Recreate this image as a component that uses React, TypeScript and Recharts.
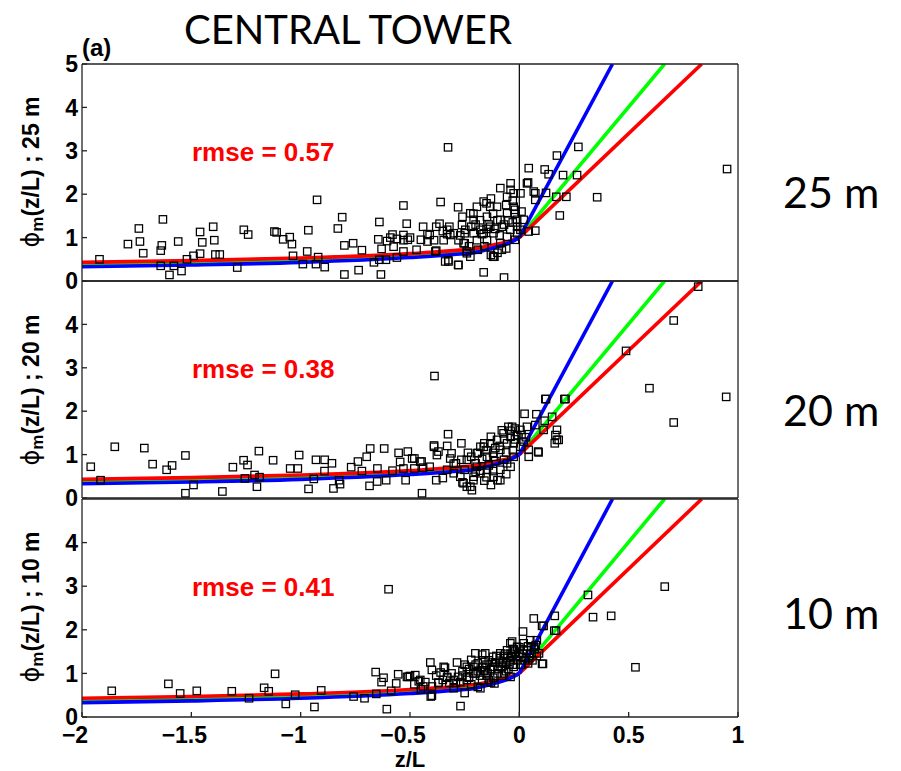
import React from "react";
import { ComposedChart, Line, ReferenceLine, Scatter, XAxis, YAxis } from "recharts";

// z/L axis and phi_m axis ticks
const zTicks = [-2, -1.5, -1, -0.5, 0, 0.5, 1];
const phiTicksTop = [0, 1, 2, 3, 4, 5];
const phiTicks = [0, 1, 2, 3, 4];
const frameTicks = [0, 1, 2, 3, 4, 5];

// fitted similarity curves, unstable side
const fitZ = [-2, -1.5, -1, -0.5, -0.3, -0.2, -0.1, -0.05, 0];
const redFit = [0.43, 0.47, 0.53, 0.63, 0.7, 0.75, 0.85, 0.91, 1];
const greenFit = [0.38, 0.42, 0.48, 0.58, 0.66, 0.71, 0.82, 0.89, 1];
const blueFit = [0.33, 0.37, 0.43, 0.54, 0.61, 0.66, 0.79, 0.87, 1];
// stable side: straight lines from (0, 1) to where each leaves the top of the panel (phi = 5)
const neutralPhi = 1;
const redExitZ = 0.834;
const greenExitZ = 0.664;
const blueExitZ = 0.426;
const exitPhi = 5;

// observations: [z/L, phi_m]
const obs25: [number, number][] = [
  [-1.92, 0.5], [-1.79, 0.85], [-1.74, 1.21], [-1.735, 0.91], [-1.72, 0.64], [-1.63, 1.42], [-1.64, 0.7],
  [-1.635, 0.82], [-1.64, 0.35], [-1.6, 0.14], [-1.58, 0.35], [-1.56, 0.91], [-1.545, 0.23], [-1.52, 0.5],
  [-1.49, 0.58], [-1.46, 1.13], [-1.45, 0.89], [-1.46, 0.63], [-1.4, 1.25], [-1.395, 0.94], [-1.39, 0.61],
  [-1.37, 0.61], [-1.29, 0.31], [-1.26, 1.18], [-1.24, 1.07], [-1.12, 1.14], [-1.11, 1.12], [-1.08, 0.96],
  [-1.05, 1.01], [-1.04, 0.85], [-1.035, 0.58], [-0.99, 0.39], [-0.97, 0.68], [-0.965, 1.17], [-0.92, 0.55],
  [-0.925, 1.87], [-0.93, 0.39], [-0.89, 0.32], [-0.83, 1.21], [-0.81, 1.47], [-0.8, 0.82], [-0.8, 0.15],
  [-0.76, 0.87], [-0.735, 0.25], [-0.72, 0.71], [-0.665, 0.43], [-0.64, 1.36], [-0.645, 0.96], [-0.64, 0.49],
  [-0.633, 0.15], [-0.63, 0.74], [-0.605, 0.92], [-0.59, 1.0], [-0.58, 1.07], [-0.61, 0.49], [-0.575, 0.79],
  [-0.56, 0.97], [-0.53, 1.74], [-0.515, 1.32], [-0.51, 0.95], [-0.53, 0.68], [-0.56, 0.54], [-0.53, 0.94],
  [-0.53, 1.06], [-0.44, 1.25], [-0.42, 0.91], [-0.41, 1.06], [-0.38, 0.7], [-0.36, 1.82], [-0.365, 1.32],
  [-0.326, 3.08], [-0.33, 1.08], [-0.325, 0.48], [-0.32, 1.25], [-0.28, 1.7], [-0.28, 0.37], [-0.26, 1.48],
  [-0.25, 0.87], [-0.24, 0.68], [-0.22, 1.25], [-0.21, 1.55], [-0.163, 0.2], [-0.17, 1.08], [-0.15, 1.79],
  [-0.13, 1.9], [-0.12, 0.56], [-0.1, 1.4], [-0.07, 0.08], [-0.04, 2.25], [-0.04, 2.1], [-0.02, 1.64],
  [-0.38, 1.25], [-0.42, 1.08], [-0.39, 0.94], [-0.316, 1.06], [-0.33, 1.18], [-0.262, 1.29], [-0.224, 1.56],
  [-0.209, 1.41], [-0.163, 1.83], [-0.087, 2.14], [-0.056, 1.94], [-0.102, 1.71], [-0.148, 1.48], [-0.178, 1.18],
  [-0.133, 1.25], [-0.087, 1.41], [-0.056, 1.56], [-0.026, 1.71], [0.005, 2.02], [0.035, 2.25], [0.043, 2.6],
  [0.073, 2.02], [0.073, 1.87], [0.116, 2.57], [0.134, 2.46], [0.122, 2.03], [0.172, 2.89], [0.2, 2.44],
  [0.169, 1.94], [0.215, 1.94], [0.185, 1.51], [0.073, 1.16], [0.043, 1.14], [0.02, 1.41], [0.005, 1.18],
  [-0.01, 1.1], [-0.056, 1.02], [-0.087, 0.87], [-0.118, 0.56], [-0.224, 0.56], [-0.24, 0.64], [-0.278, 0.37],
  [-0.324, 0.45], [-0.339, 0.45], [-0.384, 0.68], [-0.255, 0.87], [-0.194, 0.94], [-0.148, 0.94], [-0.194, 1.71],
  [-0.133, 1.71], [-0.026, 2.02], [-0.01, 1.41], [-0.041, 1.18], [-0.118, 1.1], [-0.163, 1.1], [-0.209, 1.1],
  [-0.247, 1.18], [-0.278, 0.94], [-0.346, 0.94], [-0.3, 1.1], [0.27, 3.09], [0.264, 2.44], [0.95, 2.58],
  [0.356, 1.93], [0.04, 2.27], [0.066, 2.06], [-0.114, 0.56], [-0.19, 0.72], [-0.16, 0.8], [-0.14, 1.3],
  [-0.11, 1.2], [-0.09, 1.05], [-0.07, 1.3], [-0.06, 0.75], [-0.03, 1.35], [-0.02, 0.95], [-0.01, 1.25],
  [-0.27, 1.05], [-0.23, 0.8], [-0.2, 1.3], [-0.35, 1.15], [-0.45, 0.95], [-0.5, 1.0], [-0.47, 0.72],
  [-0.13, 0.6], [-0.1, 0.65], [-0.08, 0.72], [-0.12, 1.55], [-0.06, 1.75], [-0.03, 1.85], [-0.18, 1.4],
  [-0.25, 1.1], [-0.15, 1.2], [-0.08, 1.25], [-0.05, 1.4], [-0.02, 1.55], [0.01, 1.6],
];

const obs20: [number, number][] = [
  [-1.96, 0.72], [-1.915, 0.41], [-1.85, 1.18], [-1.715, 1.15], [-1.677, 0.78], [-1.613, 0.65], [-1.588, 0.75],
  [-1.527, 0.98], [-1.527, 0.11], [-1.49, 0.3], [-1.358, 0.15], [-1.31, 0.71], [-1.261, 0.87], [-1.243, 0.76],
  [-1.255, 0.45], [-1.211, 0.53], [-1.188, 0.48], [-1.2, 0.26], [-1.191, 1.08], [-1.126, 0.87], [-1.048, 0.68],
  [-1.013, 0.68], [-1.007, 0.99], [-0.964, 0.21], [-0.94, 0.44], [-0.93, 0.88], [-0.891, 0.62], [-0.89, 0.88],
  [-0.857, 0.8], [-0.85, 0.22], [-0.824, 0.41], [-0.82, 0.32], [-0.769, 0.71], [-0.738, 0.84], [-0.72, 0.62],
  [-0.698, 0.95], [-0.682, 1.14], [-0.685, 0.28], [-0.649, 0.68], [-0.65, 0.38], [-0.618, 1.14], [-0.609, 0.41],
  [-0.58, 0.63], [-0.552, 1.04], [-0.545, 0.83], [-0.53, 0.68], [-0.52, 0.41], [-0.49, 0.91], [-0.48, 0.68],
  [-0.447, 0.84], [-0.445, 0.11], [-0.44, 0.7], [-0.41, 0.72], [-0.39, 1.21], [-0.38, 0.41], [-0.388, 2.81],
  [-0.37, 1.07], [-0.35, 0.46], [-0.33, 1.2], [-0.326, 1.47], [-0.31, 1.03], [-0.3, 0.79], [-0.265, 1.26],
  [-0.265, 0.88], [-0.235, 1.04], [-0.26, 0.36], [-0.24, 0.26], [-0.217, 0.18], [-0.21, 0.41], [-0.18, 0.63],
  [-0.19, 1.04], [-0.16, 1.26], [-0.15, 0.48], [-0.13, 1.41], [-0.12, 1.04], [-0.1, 0.41], [-0.08, 1.56],
  [-0.07, 0.88], [-0.05, 1.64], [-0.04, 1.41], [-0.04, 0.72], [-0.39, 1.18], [-0.377, 0.99], [-0.316, 0.91],
  [-0.29, 0.8], [-0.24, 0.88], [-0.194, 1.03], [-0.163, 1.18], [-0.133, 1.26], [-0.102, 1.34], [-0.072, 1.49],
  [-0.033, 1.64], [-0.01, 1.45], [0.005, 1.57], [0.035, 1.64], [0.024, 1.94], [0.078, 1.93], [0.119, 2.28],
  [0.206, 2.28], [0.116, 1.78], [0.15, 1.87], [0.172, 1.57], [0.165, 1.45], [0.18, 1.34], [0.162, 1.26],
  [0.086, 1.07], [0.043, 1.11], [0.043, 0.95], [0.073, 1.68], [0.111, 1.57], [-0.026, 0.95], [-0.056, 0.8],
  [-0.087, 0.65], [-0.087, 0.41], [-0.118, 0.49], [-0.148, 0.65], [-0.178, 0.57], [-0.209, 0.49], [-0.224, 0.26],
  [-0.255, 0.34], [-0.27, 0.49], [-0.3, 0.57], [-0.33, 0.65], [-0.178, 1.18], [-0.148, 0.95], [-0.118, 0.95],
  [-0.087, 1.11], [-0.056, 1.26], [-0.026, 1.26], [0.005, 1.18], [-0.194, 0.72], [-0.453, 0.84], [-0.48, 0.91],
  [-0.51, 1.07], [0.818, 4.87], [0.706, 4.09], [0.488, 3.39], [0.595, 2.53], [0.946, 2.33], [0.706, 1.74],
  [0.211, 2.28], [0.122, 2.28], [0.088, 1.05], [0.172, 1.34], [-0.2, 0.8], [-0.17, 0.9], [-0.14, 0.75],
  [-0.11, 0.85], [-0.09, 1.2], [-0.06, 1.05], [-0.03, 1.1], [-0.25, 0.65], [-0.22, 0.95], [-0.12, 0.62],
  [-0.06, 0.55], [-0.02, 1.35], [0.02, 1.3], [-0.15, 1.1], [-0.11, 1.15], [-0.07, 1.35], [-0.04, 1.55],
  [-0.02, 1.6], [0.01, 1.45], [0.03, 1.4], [-0.2, 0.6], [-0.16, 0.4], [-0.13, 0.3],
];

const obs10: [number, number][] = [
  [-1.864, 0.6], [-1.605, 0.76], [-1.551, 0.54], [-1.475, 0.6], [-1.315, 0.59], [-1.236, 0.43], [-1.167, 0.67],
  [-1.146, 0.59], [-1.117, 0.99], [-1.068, 0.3], [-1.025, 0.51], [-0.937, 0.23], [-0.906, 0.61], [-0.758, 0.47],
  [-0.708, 0.43], [-0.654, 0.53], [-0.657, 1.03], [-0.621, 0.9], [-0.63, 0.8], [-0.598, 2.93], [-0.606, 0.18],
  [-0.586, 0.6], [-0.563, 0.77], [-0.554, 0.98], [-0.507, 0.92], [-0.476, 0.96], [-0.46, 0.82], [-0.45, 0.63],
  [-0.407, 1.25], [-0.4, 1.08], [-0.4, 0.49], [-0.37, 0.79], [-0.36, 1.02], [-0.34, 1.13], [-0.33, 0.9],
  [-0.285, 1.25], [-0.29, 0.78], [-0.269, 0.25], [-0.25, 0.55], [-0.24, 0.92], [-0.22, 1.31], [-0.19, 0.69],
  [-0.17, 1.43], [-0.16, 1.06], [-0.13, 0.79], [-0.041, 1.69], [-0.03, 1.55], [-0.405, 0.47], [-0.178, 0.66],
  [-0.114, 0.77], [-0.201, 1.46], [-0.156, 1.46], [-0.033, 1.73], [0.066, 2.26], [0.162, 2.32], [0.111, 2.09],
  [0.16, 1.98], [0.017, 1.96], [0.108, 1.22], [-0.514, 0.92], [-0.5, 0.94], [-0.453, 0.85], [-0.44, 0.7],
  [-0.346, 1.15], [-0.33, 0.92], [-0.32, 0.78], [-0.3, 0.66], [-0.24, 0.85], [-0.24, 1.15], [-0.21, 1.0],
  [-0.19, 1.23], [-0.16, 1.07], [-0.14, 1.3], [-0.12, 1.15], [-0.12, 1.38], [-0.087, 1.46], [-0.087, 1.23],
  [-0.07, 1.0], [-0.056, 1.53], [-0.04, 1.3], [-0.026, 1.15], [-0.01, 1.61], [0.005, 1.38], [0.02, 1.69],
  [0.035, 1.53], [0.05, 1.76], [0.066, 1.61], [0.08, 1.76], [0.09, 1.46], [0.04, 1.23], [-0.04, 0.92],
  [-0.14, 0.85], [-0.28, 0.92], [-0.37, 0.78], [-0.4, 0.7], [0.665, 2.99], [0.531, 1.14], [0.42, 2.32],
  [0.337, 2.29], [0.314, 2.8], [0.168, 1.98], [0.104, 2.09], [0.104, 1.22], [-0.23, 1.1], [-0.2, 1.2],
  [-0.18, 0.95], [-0.15, 1.2], [-0.13, 1.1], [-0.11, 1.25], [-0.1, 1.0], [-0.09, 1.35], [-0.08, 1.15],
  [-0.07, 1.4], [-0.06, 1.25], [-0.05, 1.1], [-0.04, 1.45], [-0.03, 1.2], [-0.02, 1.5], [-0.01, 1.3],
  [0.0, 1.45], [0.01, 1.2], [0.02, 1.55], [0.03, 1.35], [0.04, 1.62], [0.05, 1.45], [0.06, 1.3],
  [0.07, 1.55], [0.08, 1.4], [-0.26, 1.05], [-0.27, 0.8], [-0.22, 0.75], [-0.17, 0.85], [-0.12, 0.9],
  [-0.08, 0.95], [-0.35, 0.85], [-0.31, 1.0], [-0.43, 0.8], [-0.48, 0.75], [-0.25, 1.2], [-0.21, 1.15],
  [-0.19, 1.05], [-0.165, 1.3], [-0.145, 1.0], [-0.125, 1.25], [-0.105, 1.4], [-0.095, 1.1], [-0.075, 1.25],
  [-0.065, 1.45], [-0.055, 1.35], [-0.045, 1.2], [-0.035, 1.4], [-0.025, 1.55], [-0.015, 1.4], [0.0, 1.6],
  [0.015, 1.45], [0.025, 1.3], [0.045, 1.35], [0.055, 1.6], [0.075, 1.65], [-0.3, 0.85], [-0.26, 0.95],
  [-0.23, 0.9], [-0.2, 1.0], [-0.17, 1.15], [-0.15, 0.95], [-0.1, 1.15], [-0.06, 1.05], [-0.38, 0.95],
];

const rmse25 = "0.57";
const rmse20 = "0.38";
const rmse10 = "0.41";

const FONT = "'Liberation Sans', Arial, Helvetica, sans-serif";
const FRAME = { stroke: "#222", strokeWidth: 1.3 };

const unstable = (vals: number[]) => fitZ.map((z, i) => ({ x: z, y: vals[i] }));
const stable = (exitZ: number) => [
  { x: 0, y: neutralPhi },
  { x: exitZ, y: exitPhi },
];

// green first so red and blue cover it on the unstable side, as in the figure
const fits = [
  { key: "green", color: "#00ff00", unstable: unstable(greenFit), stable: stable(greenExitZ) },
  { key: "red", color: "#ff0000", unstable: unstable(redFit), stable: stable(redExitZ) },
  { key: "blue", color: "#0000ff", unstable: unstable(blueFit), stable: stable(blueExitZ) },
];

function Square(props: any) {
  const { cx, cy } = props;
  if (cx == null || cy == null) return null;
  return <rect x={cx - 3.7} y={cy - 3.7} width={7.4} height={7.4} fill="none" stroke="#000" strokeWidth={1.25} />;
}

function ZTick(props: any) {
  const { x, y, payload } = props;
  const v = payload.value as number;
  const label = v < 0 ? `\u2212${Math.abs(v)}` : String(v);
  return (
    <text x={v < 0 ? x - 7 : x} y={y} dy="0.71em" textAnchor="middle" fontFamily={FONT} fontWeight={700} fontSize={23} fill="#000">
      {label}
    </text>
  );
}

function Panel({
  obs,
  plotTop,
  plotBottom,
  yTicks,
  showZ,
}: {
  obs: [number, number][];
  plotTop: number;
  plotBottom: number;
  yTicks: number[];
  showZ: boolean;
}) {
  const topPad = 40;
  const bottomAxisH = showZ ? 50 : 1;
  const bottomPad = 16;
  const height = topPad + (plotBottom - plotTop) + bottomAxisH + bottomPad;
  const points = obs.map(([x, y]) => ({ x, y }));
  const common = { xAxisId: "b", yAxisId: "l", dataKey: "y", dot: false, activeDot: false, isAnimationActive: false, strokeWidth: 3.6 };
  return (
    <div style={{ position: "absolute", left: 0, top: plotTop - topPad }}>
      <ComposedChart width={901} height={height} margin={{ top: topPad - 1, right: 162, bottom: bottomPad, left: 52 }}>
        <XAxis
          xAxisId="b"
          type="number"
          dataKey="x"
          domain={[-2, 1]}
          ticks={zTicks}
          interval={0}
          allowDataOverflow
          height={bottomAxisH}
          tickSize={-5}
          tickMargin={15}
          tick={showZ ? (p: any) => <ZTick {...p} /> : false}
          axisLine={FRAME}
          tickLine={FRAME}
        />
        <XAxis
          xAxisId="t"
          orientation="top"
          type="number"
          dataKey="x"
          domain={[-2, 1]}
          ticks={zTicks}
          interval={0}
          allowDataOverflow
          height={1}
          tickSize={-5}
          tick={false}
          axisLine={FRAME}
          tickLine={FRAME}
        />
        <YAxis
          yAxisId="l"
          type="number"
          dataKey="y"
          domain={[0, 5]}
          ticks={yTicks}
          interval={0}
          allowDataOverflow
          width={30}
          tickSize={-5}
          tickMargin={9}
          tick={{ fill: "#000", fontSize: 23, fontWeight: 700, fontFamily: FONT }}
          axisLine={FRAME}
          tickLine={FRAME}
        />
        <YAxis
          yAxisId="r"
          orientation="right"
          type="number"
          dataKey="y"
          domain={[0, 5]}
          ticks={frameTicks}
          interval={0}
          allowDataOverflow
          width={1}
          tickSize={-5}
          tick={false}
          axisLine={FRAME}
          tickLine={FRAME}
        />
        <ReferenceLine x={0} xAxisId="b" yAxisId="l" stroke="#000" strokeWidth={1.2} />
        {fits.map((f) => (
          <Line key={`${f.key}-u`} data={f.unstable} type="monotone" stroke={f.color} {...(common as any)} />
        ))}
        {fits.map((f) => (
          <Line key={`${f.key}-s`} data={f.stable} type="linear" stroke={f.color} {...(common as any)} />
        ))}
        <Scatter data={points} xAxisId="b" yAxisId="l" shape={(p: any) => <Square {...p} />} isAnimationActive={false} />
      </ComposedChart>
    </div>
  );
}

function YTitle({ cy, height }: { cy: number; height: string }) {
  return (
    <text transform={`translate(31,${cy}) rotate(-90)`} textAnchor="middle" dominantBaseline="central" fontFamily={FONT} fontSize={23} fontWeight={700} fill="#000">
      <tspan fontFamily="'DejaVu Sans', sans-serif" fontWeight={400} fontSize={24}>
        {"\u03D5"}
      </tspan>
      <tspan dy={6} fontSize={17}>m</tspan>
      <tspan dy={-6}>{`(z/L) ; ${height}`}</tspan>
    </text>
  );
}

export default function App() {
  return (
    <div style={{ position: "absolute", left: 0, top: 0, width: 901, height: 771, background: "#fff", overflow: "hidden" }}>
      <Panel obs={obs25} plotTop={64} plotBottom={281} yTicks={phiTicksTop} showZ={false} />
      <Panel obs={obs20} plotTop={281} plotBottom={498} yTicks={phiTicks} showZ={false} />
      <Panel obs={obs10} plotTop={499} plotBottom={717} yTicks={phiTicks} showZ={true} />
      <svg width={901} height={771} style={{ position: "absolute", left: 0, top: 0, pointerEvents: "none" }}>
        <text x={348} y={44} textAnchor="middle" fontFamily="Lato, sans-serif" fontSize={40} fill="#000">
          CENTRAL TOWER
        </text>
        <text x={82} y={56} fontFamily={FONT} fontWeight={700} fontSize={24} fill="#000">
          (a)
        </text>
        <text x={192} y={161} fontFamily={FONT} fontWeight={700} fontSize={26} fill="#ff0000">{`rmse = ${rmse25}`}</text>
        <text x={192} y={378} fontFamily={FONT} fontWeight={700} fontSize={26} fill="#ff0000">{`rmse = ${rmse20}`}</text>
        <text x={192} y={596} fontFamily={FONT} fontWeight={700} fontSize={26} fill="#ff0000">{`rmse = ${rmse10}`}</text>
        <text x={783} y={208} fontFamily="Lato, sans-serif" fontSize={43} fill="#000">25 m</text>
        <text x={783} y={426} fontFamily="Lato, sans-serif" fontSize={43} fill="#000">20 m</text>
        <text x={783} y={629} fontFamily="Lato, sans-serif" fontSize={43} fill="#000">10 m</text>
        <YTitle cy={172} height="25 m" />
        <YTitle cy={390} height="20 m" />
        <YTitle cy={607} height="10 m" />
        <text x={410} y={767} textAnchor="middle" fontFamily={FONT} fontWeight={700} fontSize={22} fill="#000">
          z/L
        </text>
      </svg>
    </div>
  );
}
